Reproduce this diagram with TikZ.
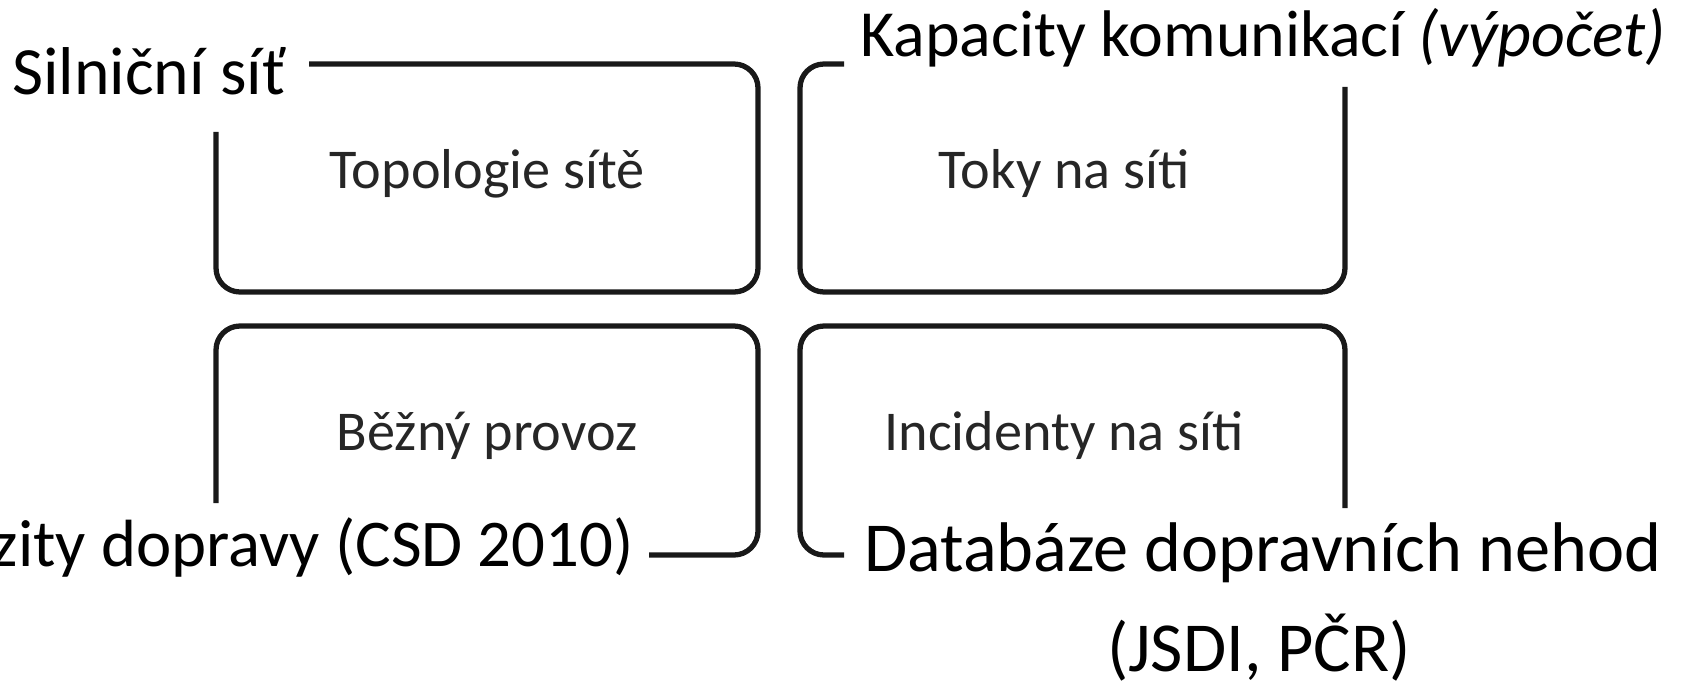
\documentclass[tikz,border=0pt]{standalone}
\usepackage{fontspec}
\setmainfont{Carlito}
\begin{document}
\begin{tikzpicture}[x=0.02cm,y=-0.02cm,
  frame/.style={line width=3pt,draw=black!90,rounded corners=0.48cm},
  inner/.style={inner sep=0pt,font=\fontsize{32}{38}\selectfont,text=black!85},
  outer/.style={inner sep=0pt,text=black}]
\useasboundingbox (0,0) rectangle (1691,686);
\clip (0,0) rectangle (1691,686);
% frames (each with one open corner)
\draw[frame] (309,64) -- (758,64) -- (758,292) -- (216,292) -- (216,132);
\draw[frame] (844,64) -- (800,64) -- (800,292) -- (1345,292) -- (1345,87);
\draw[frame] (216,503) -- (216,326) -- (758,326) -- (758,555) -- (649,555);
\draw[frame] (1345,508) -- (1345,326) -- (800,326) -- (800,555) -- (844,555);
% inner texts
\node[inner,anchor=base] (topo) at (487,189) {Topologie sítě};
\node[inner,anchor=base] (toky) at (1064,189) {Toky na síti};
\node[inner,anchor=base] (bezny) at (487,450) {Běžný provoz};
\node[inner,anchor=base] (inc) at (1064,450) {Incidenty na síti};
% outer labels
\node[outer,font=\fontsize{38.5}{46}\selectfont,anchor=base west] (silnice) at (12,95) {Silniční síť};
\node[outer,font=\fontsize{37.5}{45}\selectfont,anchor=base west] (kapacity) at (860,57) {Kapacity komunikací \textit{(výpočet)}};
\node[outer,font=\fontsize{38}{46}\selectfont,anchor=base east] (intenzity) at (634,566) {Intenzity dopravy (CSD 2010)};
\node[outer,font=\fontsize{40}{48}\selectfont,anchor=base west] (databaze) at (864,571) {Databáze dopravních nehod};
\node[outer,font=\fontsize{40}{48}\selectfont,anchor=base] (jsdi) at (1259,671) {(JSDI, PČR)};
\end{tikzpicture}
\end{document}
